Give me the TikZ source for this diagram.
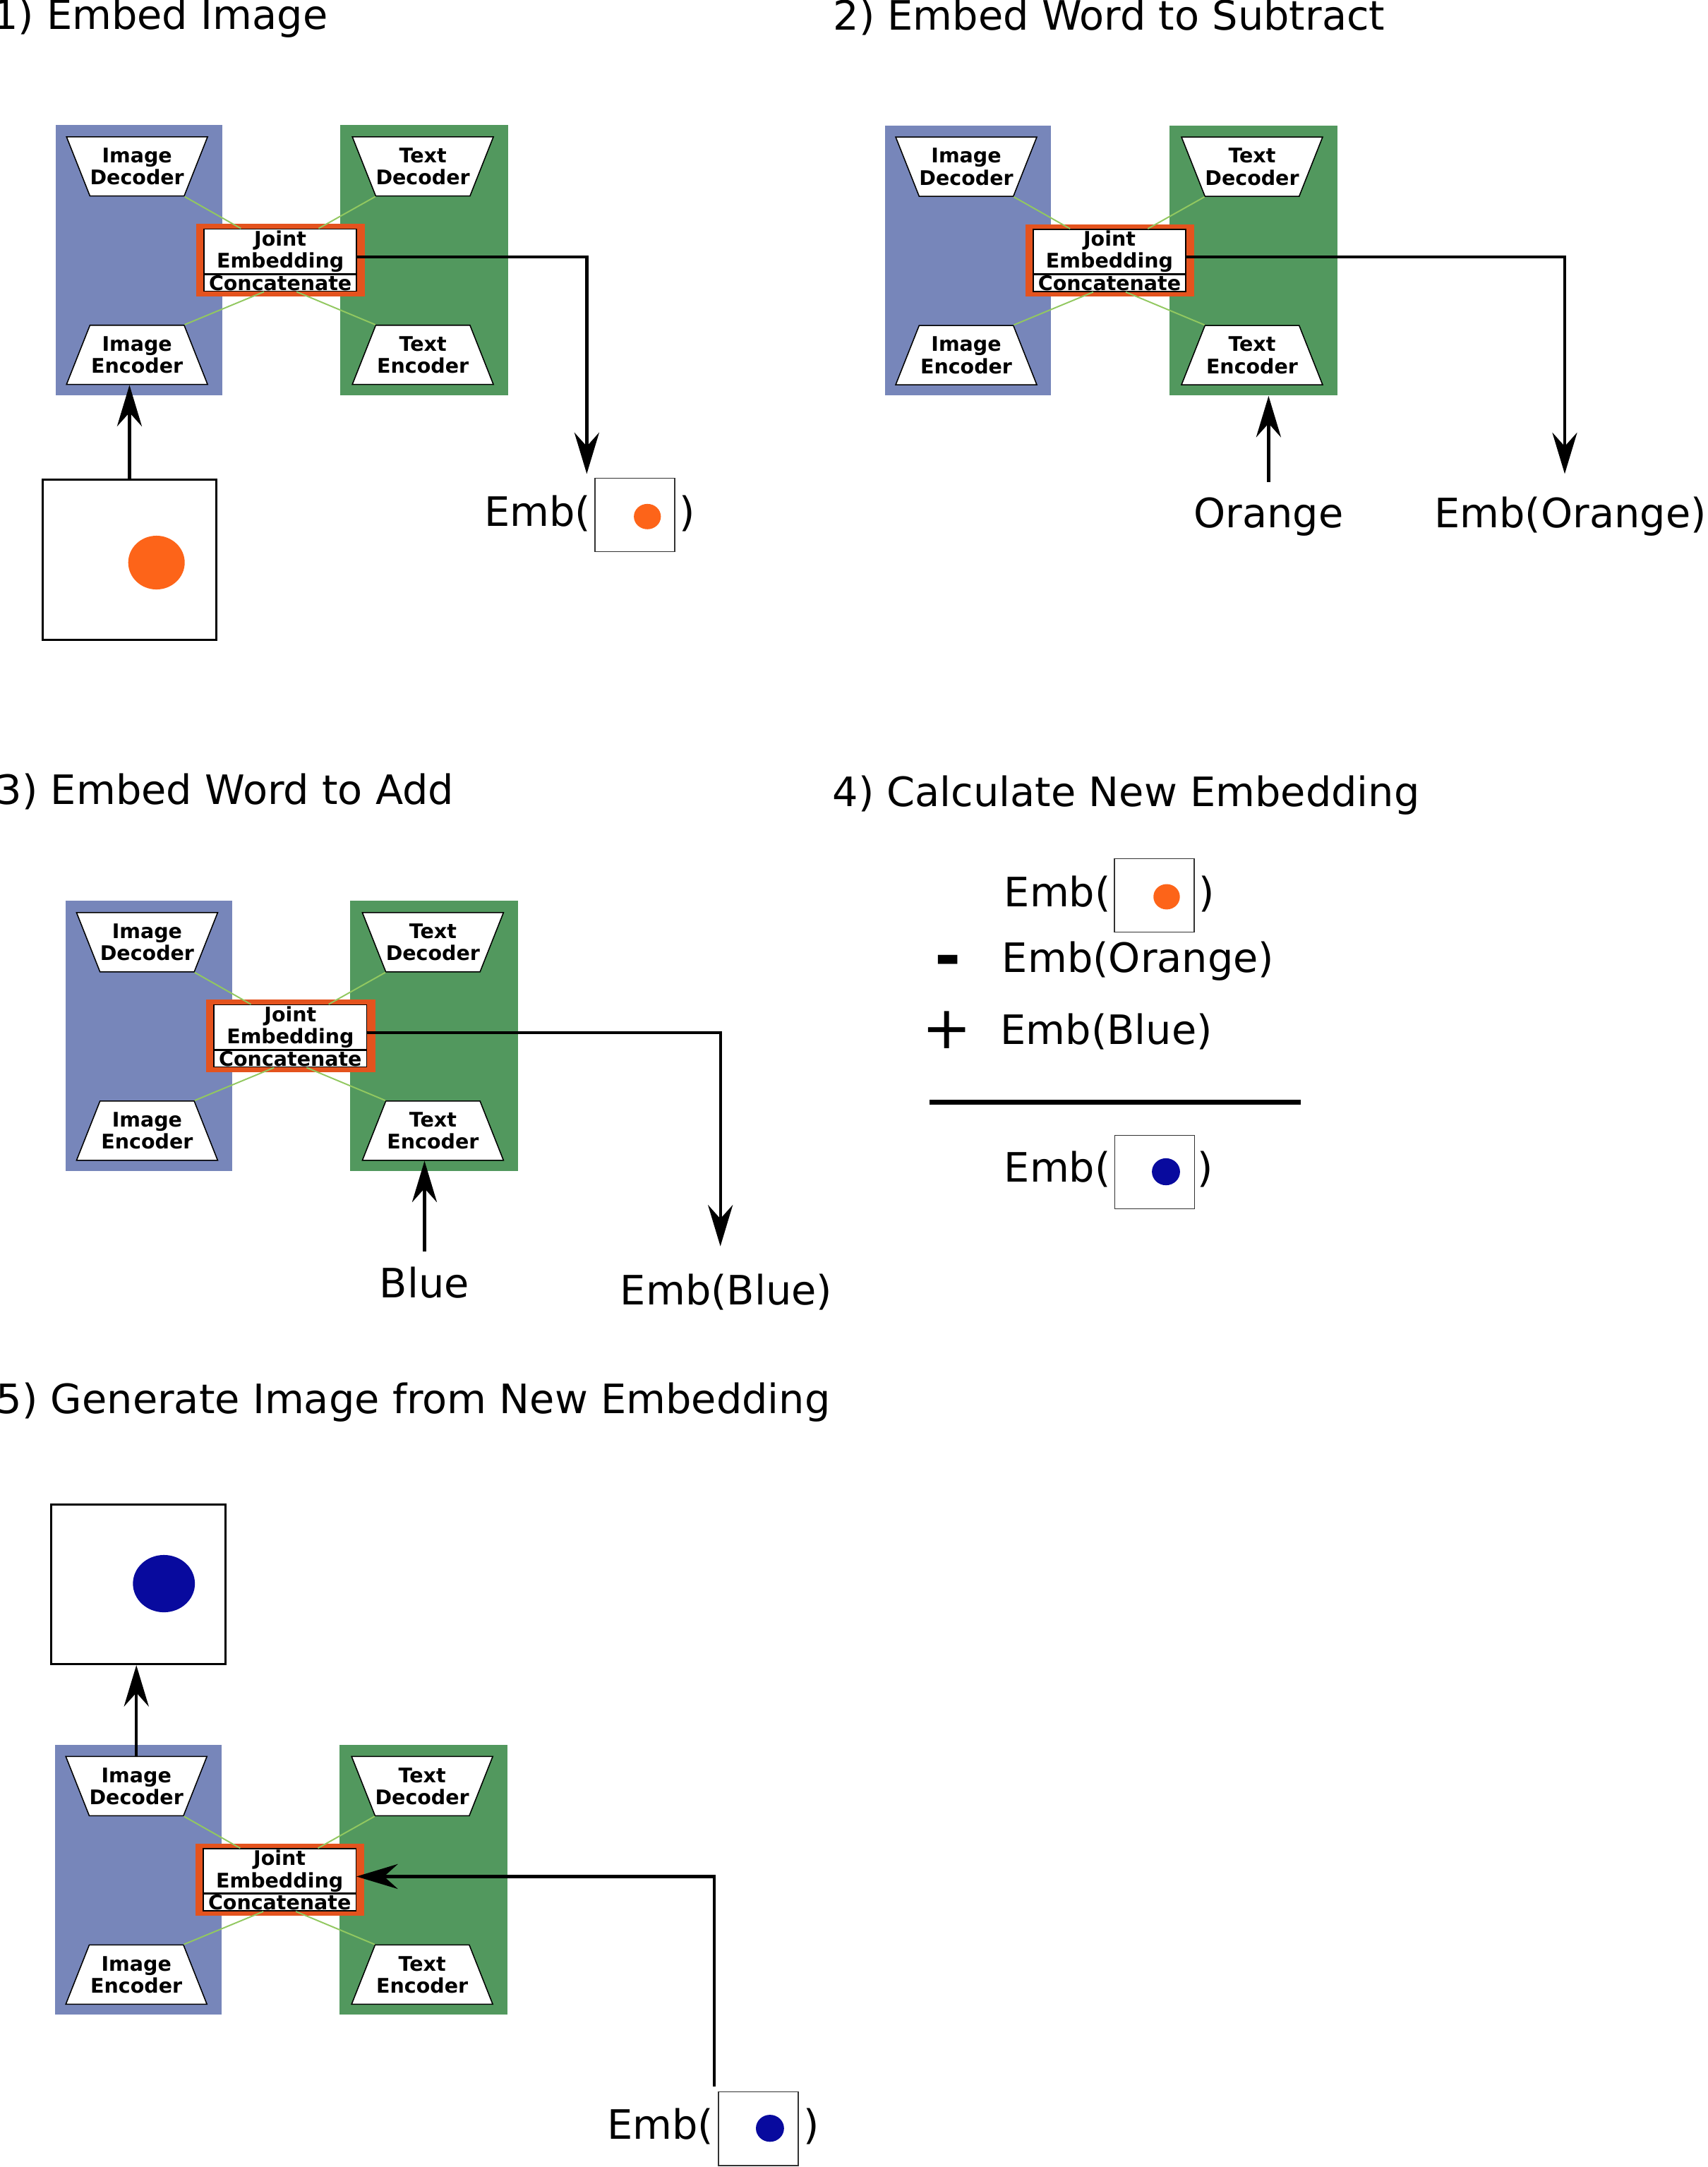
\documentclass[tikz,border=0pt]{standalone}
\usepackage{fontspec}
\setmainfont{DejaVu Sans}
\usetikzlibrary{shapes.geometric,arrows.meta}

\definecolor{imgblue}{RGB}{119,134,186}
\definecolor{txtgreen}{RGB}{82,152,94}
\definecolor{jointorange}{RGB}{228,83,30}
\definecolor{linkgreen}{RGB}{146,200,96}
\definecolor{dotorange}{RGB}{253,100,25}
\definecolor{dotblue}{RGB}{8,10,158}

\tikzset{
  imgside/.style={fill=imgblue,minimum width=60.35pt,minimum height=98pt,inner sep=0pt},
  txtside/.style={fill=txtgreen,minimum width=61pt,minimum height=98pt,inner sep=0pt},
  netpart/.style={trapezium,draw=black,line width=0.4pt,fill=white,inner xsep=0pt,inner ysep=0pt,
    text width=34.2pt,align=center,text height=9.4pt,text depth=12.1pt,trapezium stretches body,
    font=\fontsize{7.3}{8}\selectfont\bfseries},
  decoder/.style={netpart,trapezium left angle=111.6,trapezium right angle=111.6},
  encoder/.style={netpart,trapezium left angle=68.4,trapezium right angle=68.4},
  jointbox/.style={fill=jointorange,minimum width=61.35pt,minimum height=26.2pt,inner sep=0pt},
  embbox/.style={draw=black,line width=0.4pt,fill=white,minimum width=55.4pt,minimum height=16.15pt,
    inner sep=0pt,align=center,font=\fontsize{7.3}{8}\selectfont\bfseries},
  catbox/.style={embbox,minimum height=6.1pt},
  link/.style={draw=linkgreen,line width=0.5pt},
  flow/.style={draw=black,line width=1.1pt,-{Stealth[length=15pt,width=9pt,inset=5pt]}},
  photo/.style={draw=black,line width=0.8pt,fill=white,inner sep=0pt},
  thumb/.style={draw=black!80,line width=0.4pt,fill=white,inner sep=0pt,minimum width=29pt,minimum height=26.7pt},
  lbl/.style={inner sep=0pt,font=\fontsize{14.7}{17}\selectfont},
}

\begin{document}
\begin{tikzpicture}[x=0.5pt,y=0.5pt,yscale=-1,xscale=1]
    \useasboundingbox (0,0) rectangle (1240,1573.1);

    % the same network in steps 1, 2, 3 and 5
    \foreach \n/\bx/\by in {1/40.5/90.8, 2/642.5/91, 3/47.8/654, 5/40/1266.6}{
      \begin{scope}[shift={(\bx,\by)}]
        %Shape: Rectangle
        \node[imgside] (blue\n) at (60.35,98) {};
        \node[txtside] (green\n) at (267.5,98) {};
        %Shape: Trapezoid
        \node[decoder] (idec\n) at (59,30) {Image\\Decoder};
        \node[decoder] (tdec\n) at (266.5,30) {Text\\Decoder};
        \node[encoder] (ienc\n) at (59,166.8) {Image\\Encoder};
        \node[encoder] (tenc\n) at (266.5,166.8) {Text\\Encoder};
        %Shape: Rectangle
        \node[jointbox] (joint\n) at (163.2,98) {};
        \node[embbox] (jemb\n) at (163,91.6) {Joint\\Embedding};
        \node[catbox] (jcat\n) at (163,114.5) {Concatenate};
        %Straight Lines
        \draw[link] (idec\n.bottom right corner) -- ([xshift=13.6pt]jemb\n.north west);
        \draw[link] (tdec\n.bottom left corner) -- ([xshift=-14pt]jemb\n.north east);
        \draw[link] ([xshift=-5.9pt]jcat\n.south) -- (ienc\n.top right corner);
        \draw[link] ([xshift=5.9pt]jcat\n.south) -- (tenc\n.top left corner);
      \end{scope}
    }

    % Text Node
    \node[lbl,anchor=base west] (title1) at (-6,21.5) {1) Embed Image};
    \node[lbl,anchor=base west] (title2) at (604.5,21.7) {2) Embed Word to Subtract};
    \node[lbl,anchor=base west] (title3) at (-3,584) {3) Embed Word to Add};
    \node[lbl,anchor=base west] (title4) at (604,585.6) {4) Calculate New Embedding};
    \node[lbl,anchor=base west] (title5) at (-3,1026) {5) Generate Image from New Embedding};

    % step 1
    \node[photo,minimum width=63pt,minimum height=58.25pt] (inimg) at (94,406.25) {};
    \fill[dotorange] (113.6,408.4) ellipse (20.5 and 19.5);
    \draw[flow] (inimg.north) -- (inimg.north |- ienc1.south);
    \node[thumb] (thumb1) at (461,373.75) {};
    \fill[dotorange] (470,375) ellipse (9.8 and 9.2);
    \node[lbl,anchor=base east] (emb1) at (429.3,382) {Emb(};
    \node[lbl,anchor=base west] (close1) at (493,382) {)};
    \coordinate (out1) at (426,344);
    \draw[flow] ([yshift=2pt]jemb1.east) -| (out1);

    % step 2
    \node[lbl,anchor=base] (word2) at (921,383) {Orange};
    \draw[flow] ([yshift=-5.5pt]word2.north) -- (word2.north |- green2.south);
    \node[lbl,anchor=base west] (emb2) at (1041,383) {Emb(Orange)};
    \coordinate (out2) at (1136,344);
    \draw[flow] ([yshift=2pt]jemb2.east) -| (out2);

    % step 3
    \node[lbl,anchor=base] (word3) at (308.2,942) {Blue};
    \draw[flow] ([yshift=-5.5pt]word3.north) -- (word3.north |- tenc3.south);
    \node[lbl,anchor=base west] (emb3) at (450,947) {Emb(Blue)};
    \coordinate (out3) at (523,904.7);
    \draw[flow] ([yshift=2pt]jemb3.east) -| (out3);

    % step 4
    \node[thumb] (thumb4a) at (838,650) {};
    \fill[dotorange] (847,651) ellipse (9.6 and 9.2);
    \node[lbl,anchor=base east] (emb4a) at (806.8,658) {Emb(};
    \node[lbl,anchor=base west] (close4a) at (870,658) {)};
    \node[inner sep=0pt,font=\fontsize{23}{23}\selectfont\bfseries,anchor=base] (minus) at (688,710) {-};
    \node[lbl,anchor=base west] (emb4b) at (727.2,706) {Emb(Orange)};
    \node[inner sep=0pt,font=\fontsize{21.5}{22}\selectfont,anchor=base] (plus) at (687.3,761.4) {+};
    \node[lbl,anchor=base west] (emb4c) at (726,758) {Emb(Blue)};
    %Straight Lines
    \draw[line width=1.8pt] (675,800) -- (944.4,800);
    \node[thumb] (thumb4d) at (838.25,850.8) {};
    \fill[dotblue] (846.5,850.6) ellipse (10.2 and 9.8);
    \node[lbl,anchor=base east] (emb4d) at (806.8,858) {Emb(};
    \node[lbl,anchor=base west] (close4d) at (869,858) {)};

    % step 5
    \node[photo,minimum width=63.15pt,minimum height=58pt] (outimg) at (100.35,1150) {};
    \fill[dotblue] (119,1149.6) ellipse (22.5 and 20.8);
    \draw[flow] (idec5.north) -- (idec5.north |- outimg.south);
    \node[thumb] (thumb5) at (550.55,1545.3) {};
    \fill[dotblue] (559,1545) ellipse (10.2 and 9.8);
    \node[lbl,anchor=base east] (emb5) at (518.5,1553) {Emb(};
    \node[lbl,anchor=base west] (close5) at (583,1553) {)};
    \coordinate (in5) at (518.6,1514.7);
    \draw[flow] (in5) |- ([yshift=2pt]jemb5.east);
\end{tikzpicture}
\end{document}
